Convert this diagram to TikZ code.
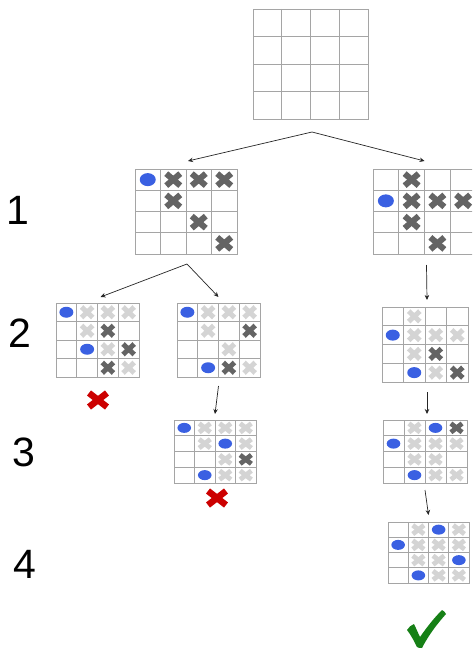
\documentclass[tikz,border=0pt]{standalone}
\usepackage{fontspec}
\setmainfont{Liberation Sans}
\usetikzlibrary{calc,arrows.meta}
\definecolor{xdark}{RGB}{100,100,100}
\definecolor{xlight}{RGB}{212,212,212}
\definecolor{gridc}{RGB}{165,165,165}
\definecolor{dotc}{RGB}{58,96,226}
\definecolor{badc}{RGB}{204,0,0}
\definecolor{goodc}{RGB}{22,128,22}
\tikzset{
  boardbox/.style={draw=gridc, line width=0.9pt, inner sep=0pt, outer sep=0pt, anchor=north west},
  gridline/.style={draw=gridc, line width=0.9pt},
  arr/.style={-{Stealth[length=5pt,width=4.5pt]}, line width=0.7pt, black!85},
  lvl/.style={font=\fontsize{41}{41}\selectfont, inner sep=0pt},
  badx/.style={draw=badc, line width=6.5pt},
}
% board: name, x, y, w, h, contents
\newcommand\board[6]{%
  \node[boardbox, minimum width=#4pt, minimum height=#5pt] (#1) at (#2,#3) {};
  \pgfmathsetmacro\cw{#4/4}\pgfmathsetmacro\ch{#5/4}
  \begin{scope}[shift={(#1.north west)}, x=\cw pt, y=-\ch pt]
    \foreach \i in {1,2,3}{\draw[gridline] (\i,0)--(\i,4); \draw[gridline] (0,\i)--(4,\i);}
    #6
  \end{scope}}
\newcommand\bdot[2]{\fill[dotc] ({#1-0.5},{#2-0.5}) ellipse [x radius=\drx pt, y radius=\dry pt];}
\newcommand\crs[3]{\draw[#3, line width=\xlw pt] ({#1-0.5},{#2-0.5}) +(-\xa pt,-\xb pt) -- +(\xa pt,\xb pt);
  \draw[#3, line width=\xlw pt] ({#1-0.5},{#2-0.5}) +(-\xa pt,\xb pt) -- +(\xa pt,-\xb pt);}
\newcommand\dkx[2]{\crs{#1}{#2}{xdark}}
\newcommand\ltx[2]{\crs{#1}{#2}{xlight}}
\newcommand\bigsize{\def\drx{8}\def\dry{6.5}\def\xa{7}\def\xb{6}\def\xlw{6}}
\newcommand\midsize{\def\drx{7}\def\dry{5.5}\def\xa{5.6}\def\xb{5.2}\def\xlw{5}}
\newcommand\smlsize{\def\drx{6.8}\def\dry{5}\def\xa{5.6}\def\xb{4.4}\def\xlw{4.8}}
\begin{document}
\begin{tikzpicture}[x=1pt,y=-1pt]
\clip (0,0) rectangle (472,650);
\fill[white] (0,0) rectangle (472,650);

% level labels
\node[lvl] (n1) at (18,210) {1};
\node[lvl] (n2) at (20,333) {2};
\node[lvl] (n3) at (24,452) {3};
\node[lvl] (n4) at (25,564) {4};

% root
\board{root}{253}{9}{115}{110}{}

% level 1
\bigsize
\board{La}{135}{169}{102}{85}{\bdot11 \dkx21 \dkx31 \dkx41 \dkx22 \dkx33 \dkx44}
\board{Lb}{373}{169}{103}{85}{\bdot12 \dkx21 \dkx22 \dkx32 \dkx42 \dkx23 \dkx34}

% level 2
\midsize
\board{Ma}{56}{303}{83}{74}{\bdot11 \bdot23 \ltx21 \ltx31 \ltx41 \ltx22 \ltx33 \ltx44 \dkx32 \dkx43 \dkx34}
\board{Mb}{177}{303}{83}{74}{\bdot11 \bdot24 \ltx21 \ltx31 \ltx41 \ltx22 \ltx33 \ltx44 \dkx42 \dkx34}
\board{Mc}{382}{307}{86}{75}{\bdot12 \bdot24 \ltx21 \ltx22 \ltx32 \ltx42 \ltx23 \ltx34 \dkx33 \dkx44}

% level 3
\smlsize
\board{Nb}{174}{420}{82}{63}{\bdot11 \bdot32 \bdot24 \ltx21 \ltx31 \ltx41 \ltx22 \ltx42 \ltx33 \ltx34 \ltx44 \dkx43}
\board{Nc}{383}{420}{84}{63}{\bdot31 \bdot12 \bdot24 \ltx21 \ltx22 \ltx32 \ltx42 \ltx23 \ltx33 \ltx34 \ltx44 \dkx41}

% level 4
\board{Pc}{388}{522}{81}{61}{\bdot31 \bdot12 \bdot43 \bdot24 \ltx21 \ltx41 \ltx22 \ltx32 \ltx42 \ltx23 \ltx33 \ltx34 \ltx44}

% connectors
\coordinate (ra) at (312,132);
\coordinate (la) at (187,264);
\draw[arr] (ra) -- ([xshift=2pt,yshift=8pt]La.north);
\draw[arr] (ra) -- ([yshift=8pt]Lb.north);
\draw[arr] (la) -- ([xshift=3pt,yshift=6pt]Ma.north);
\draw[arr] (la) -- ([yshift=6pt]Mb.north);
\draw[arr] ([xshift=2pt,yshift=-11pt]Lb.south) -- ([xshift=2pt,yshift=7pt]Mc.north);
\draw[arr] ([yshift=-9pt]Mb.south) -- ([yshift=6pt]Nb.north);
\draw[arr] ([xshift=2pt,yshift=-10pt]Mc.south) -- ([xshift=2pt,yshift=6pt]Nc.north);
\draw[arr] ([yshift=-7pt]Nc.south) -- ([yshift=7pt]Pc.north);

% verdicts
\coordinate (fa) at (98,400);
\coordinate (fb) at (217,498);
\draw[badx] (fa) +(-9,-7) -- +(9,7);
\draw[badx] (fa) +(-9,7) -- +(9,-7);
\draw[badx] (fb) +(-9,-7) -- +(9,7);
\draw[badx] (fb) +(-9,7) -- +(9,-7);
\fill[goodc] (407,630) .. controls (409,627) and (411,625) .. (414,624)
  .. controls (416,628) and (418,633) .. (420,637)
  .. controls (427,627) and (434,618) .. (442,610)
  .. controls (444,611) and (445,612) .. (446,614)
  .. controls (437,624) and (428,636) .. (422,648)
  .. controls (420,648) and (418,648) .. (417,647)
  .. controls (414,641) and (411,635) .. (407,630) -- cycle;
\end{tikzpicture}
\end{document}
